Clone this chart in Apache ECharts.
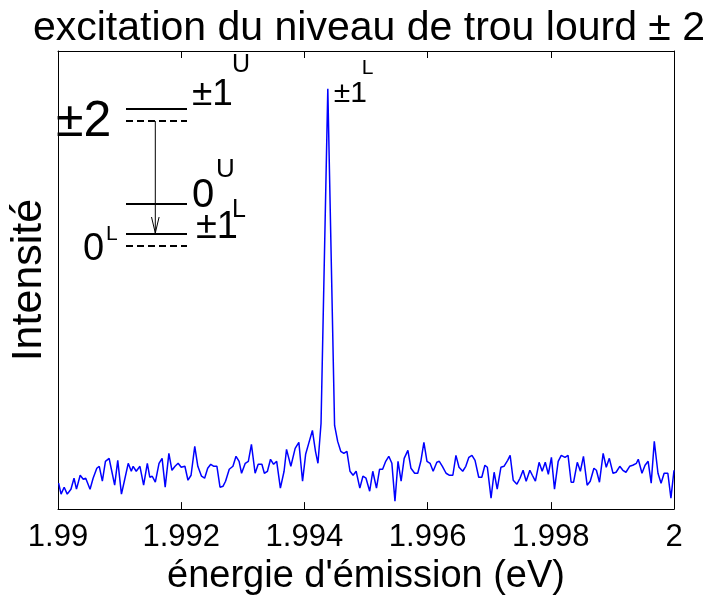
<!DOCTYPE html>
<html>
<head>
<meta charset="utf-8">
<script src="https://cdn.jsdelivr.net/npm/echarts@6/dist/echarts.min.js"></script>
<style>
  html, body { margin: 0; padding: 0; background: #fff; }
  #chart { width: 706px; height: 601px; }
</style>
</head>
<body>
<div id="chart"></div>
<script>
// Emission spectrum after excitation of the heavy-hole ±2 level
const energy = [
  1.99001, 1.99005, 1.99010, 1.99015, 1.99021, 1.99026, 1.99030, 1.99036, 1.99041, 1.99045,
  1.99052, 1.99057, 1.99063, 1.99067, 1.99072, 1.99077, 1.99083, 1.99087, 1.99092, 1.99097,
  1.99103, 1.99108, 1.99114, 1.99119, 1.99122, 1.99127, 1.99133, 1.99139, 1.99145, 1.99149,
  1.99153, 1.99158, 1.99164, 1.99169, 1.99174, 1.99180, 1.99185, 1.99190, 1.99195, 1.99200,
  1.99206, 1.99211, 1.99216, 1.99222, 1.99227, 1.99233, 1.99238, 1.99243, 1.99248, 1.99253,
  1.99258, 1.99263, 1.99268, 1.99272, 1.99278, 1.99284, 1.99289, 1.99294, 1.99298, 1.99304,
  1.99309, 1.99314, 1.99320, 1.99325, 1.99331, 1.99335, 1.99340, 1.99345, 1.99350, 1.99355,
  1.99361, 1.99367, 1.99371, 1.99378, 1.99385, 1.99391, 1.99397, 1.99402, 1.99407, 1.99413,
  1.99418, 1.99422, 1.99427, 1.99438, 1.99449, 1.99454, 1.99459, 1.99464, 1.99469, 1.99474,
  1.99479, 1.99484, 1.99490, 1.99495, 1.99500, 1.99506, 1.99511, 1.99517, 1.99522, 1.99527,
  1.99532, 1.99537, 1.99542, 1.99547, 1.99552, 1.99557, 1.99562, 1.99568, 1.99573, 1.99579,
  1.99584, 1.99589, 1.99594, 1.99599, 1.99604, 1.99609, 1.99615, 1.99619, 1.99624, 1.99630,
  1.99635, 1.99641, 1.99646, 1.99651, 1.99657, 1.99662, 1.99667, 1.99672, 1.99677, 1.99683,
  1.99688, 1.99693, 1.99697, 1.99703, 1.99708, 1.99713, 1.99719, 1.99724, 1.99730, 1.99734,
  1.99739, 1.99745, 1.99750, 1.99755, 1.99760, 1.99766, 1.99770, 1.99775, 1.99781, 1.99786,
  1.99791, 1.99796, 1.99801, 1.99806, 1.99812, 1.99817, 1.99823, 1.99828, 1.99833, 1.99837,
  1.99843, 1.99848, 1.99853, 1.99859, 1.99864, 1.99870, 1.99874, 1.99879, 1.99885, 1.99890,
  1.99895, 1.99901, 1.99906, 1.99912, 1.99917, 1.99922, 1.99928, 1.99933, 1.99939, 1.99942,
  1.99948, 1.99953, 1.99958, 1.99963, 1.99968, 1.99974, 1.99979, 1.99984, 1.99990, 1.99995,
  2.00000
];

// Intensity, arbitrary units
const intensity = [
  26, 15, 22, 15, 20, 31, 20, 34, 30, 31,
  20, 31, 41, 43, 28, 48, 51, 39, 24, 49,
  15, 29, 46, 38, 43, 38, 43, 24, 46, 32,
  33, 27, 46, 51, 22, 56, 39, 43, 46, 42,
  43, 29, 34, 63, 43, 33, 31, 41, 45, 43,
  43, 22, 23, 28, 40, 43, 53, 48, 36, 46,
  48, 65, 36, 45, 45, 36, 38, 50, 45, 48,
  21, 38, 60, 43, 61, 67, 28, 55, 66, 79,
  58, 46, 86, 422, 84, 68, 58, 56, 58, 38,
  34, 38, 21, 33, 31, 18, 38, 21, 40, 40,
  48, 53, 46, 8, 48, 28, 51, 59, 41, 36,
  36, 48, 67, 48, 46, 38, 47, 48, 43, 36,
  34, 34, 54, 42, 38, 43, 52, 54, 49, 32,
  32, 44, 42, 11, 37, 20, 42, 43, 49, 54,
  29, 25, 31, 39, 28, 39, 34, 28, 47, 38,
  47, 35, 52, 20, 48, 54, 52, 54, 27, 27,
  47, 38, 53, 24, 28, 41, 39, 27, 56, 42,
  51, 36, 37, 43, 39, 37, 43, 44, 46, 50,
  36, 44, 48, 26, 68, 36, 26, 36, 36, 11,
  39
];

const xTicks = { min: 1.99, max: 2.0, step: 0.002 };
const yRange = { min: 0, max: 460 };

const titleText = 'excitation du niveau de trou lourd \u00b1 2';
const xName = '\u00e9nergie d\'\u00e9mission (eV)';
const yName = 'Intensit\u00e9';

const FONT = '"Liberation Sans", Arial, Helvetica, sans-serif';

const points = energy.map((e, i) => [e, intensity[i]]);

const chart = echarts.init(document.getElementById('chart'), null, { renderer: 'canvas' });

const axisLineStyle = { color: '#000', width: 1 };

function tickFmt(v) {
  return String(parseFloat(Number(v).toFixed(3)));
}

// energy-level scheme drawn in the upper-left corner
function levelLine(x1, x2, y, dashed) {
  return {
    type: 'line',
    shape: { x1: x1, y1: y, x2: x2, y2: y },
    style: { stroke: '#000', lineWidth: 2, lineDash: dashed ? [7, 4] : null }
  };
}
function label(text, x, y, size) {
  return {
    type: 'text',
    x: x, y: y,
    style: {
      text: text, fill: '#000', font: size + 'px ' + FONT,
      textAlign: 'left', textVerticalAlign: 'middle'
    }
  };
}

const scheme = [
  levelLine(126, 187, 109, false),
  levelLine(126, 187, 121, true),
  levelLine(126, 187, 204, false),
  levelLine(126, 187, 234, false),
  levelLine(126, 187, 246, true),
  { type: 'line', shape: { x1: 155.3, y1: 121, x2: 155.3, y2: 233 }, style: { stroke: '#000', lineWidth: 1 } },
  { type: 'polyline', shape: { points: [[151.5, 217], [155.3, 233], [159.1, 217]] }, style: { stroke: '#000', lineWidth: 1, fill: null } },
  label('\u00b12', 56, 122, 50),
  label('\u00b11', 192, 95, 37),
  label('U', 232, 65, 25),
  label('0', 192, 196, 40),
  label('U', 216, 170, 26),
  label('\u00b11', 196, 228, 38),
  label('L', 232, 210, 25),
  label('0', 83, 250, 38),
  label('L', 106, 234, 21)
];

const option = {
  backgroundColor: '#fff',
  animation: false,
  title: {
    text: titleText,
    left: 364,
    textAlign: 'center',
    top: 3,
    textStyle: { fontFamily: FONT, fontSize: 41, fontWeight: 'normal', color: '#000' }
  },
  grid: { left: 56, right: 32, top: 51, bottom: 90, show: false },
  xAxis: [
    {
      type: 'value',
      min: xTicks.min, max: xTicks.max, interval: xTicks.step,
      position: 'bottom',
      name: xName,
      nameLocation: 'middle',
      nameGap: 43,
      nameTextStyle: { fontFamily: FONT, fontSize: 38, color: '#000' },
      axisLine: { show: true, onZero: false, lineStyle: axisLineStyle },
      axisTick: { show: true, inside: true, length: 7, lineStyle: axisLineStyle },
      axisLabel: { show: true, margin: 13, formatter: tickFmt, fontFamily: FONT, fontSize: 31, color: '#000' },
      splitLine: { show: false }
    },
    {
      type: 'value',
      min: xTicks.min, max: xTicks.max, interval: xTicks.step,
      position: 'top',
      axisLine: { show: true, onZero: false, lineStyle: axisLineStyle },
      axisTick: { show: true, inside: true, length: 7, lineStyle: axisLineStyle },
      axisLabel: { show: false },
      splitLine: { show: false }
    }
  ],
  yAxis: [
    {
      type: 'value',
      min: yRange.min, max: yRange.max,
      position: 'left',
      name: yName,
      nameLocation: 'middle',
      nameRotate: 90,
      nameGap: 7,
      nameTextStyle: { fontFamily: FONT, fontSize: 43, color: '#000' },
      axisLine: { show: true, onZero: false, lineStyle: axisLineStyle },
      axisTick: { show: false },
      axisLabel: { show: false },
      splitLine: { show: false }
    },
    {
      type: 'value',
      min: yRange.min, max: yRange.max,
      position: 'right',
      axisLine: { show: true, onZero: false, lineStyle: axisLineStyle },
      axisTick: { show: false },
      axisLabel: { show: false },
      splitLine: { show: false }
    }
  ],
  series: [
    {
      type: 'line',
      data: points,
      xAxisIndex: 0,
      yAxisIndex: 0,
      showSymbol: false,
      symbol: 'none',
      lineStyle: { color: '#0000ff', width: 1.5 },
      itemStyle: { color: '#0000ff' },
      markPoint: {
        symbol: 'circle',
        symbolSize: 0,
        silent: true,
        data: [
          {
            type: 'max',
            label: {
              show: true, formatter: '\u00b11', position: 'right', distance: 6, offset: [0, 5],
              fontFamily: FONT, fontSize: 30, color: '#000'
            }
          },
          {
            type: 'max',
            label: {
              show: true, formatter: 'L', position: 'right', distance: 34, offset: [0, -21],
              fontFamily: FONT, fontSize: 21, color: '#000'
            }
          }
        ]
      }
    }
  ],
  graphic: scheme
};

chart.setOption(option);
</script>
</body>
</html>
